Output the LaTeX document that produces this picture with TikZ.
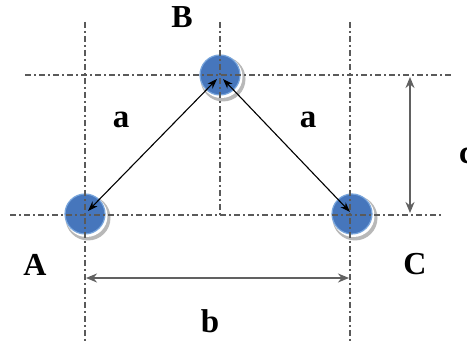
\documentclass[tikz,border=0pt]{standalone}
\usepackage{fontspec}
\setmainfont{Liberation Serif}
\usetikzlibrary{arrows.meta}
\definecolor{ballblue}{RGB}{70,118,188}
\definecolor{ballrim}{RGB}{120,165,220}
\definecolor{guide}{RGB}{90,90,90}
\tikzset{
  guideline/.style={guide, line width=1.2pt, dash pattern=on 6pt off 3pt on 2pt off 3pt},
  ball/.style={circle, minimum size=40pt, inner sep=0pt, fill=ballblue, draw=ballrim, line width=1.2pt},
  dimarrow/.style={{Stealth[length=11pt,width=9pt]}-{Stealth[length=11pt,width=9pt]}, line width=2.2pt, draw=black!62},
  linkarrow/.style={{Stealth[length=10pt,width=7pt]}-{Stealth[length=10pt,width=7pt]}, line width=1.1pt, black},
  capl/.style={font=\fontsize{32}{32}\selectfont\bfseries},
  lowl/.style={font=\fontsize{33}{33}\selectfont\bfseries},
}
\begin{document}
\begin{tikzpicture}[x=1pt,y=-1pt]
\useasboundingbox (0,0) rectangle (467,344);
\clip (0,0) rectangle (467,344);
\fill[white] (0,0) rectangle (467,344);
% halos
\foreach \x/\y in {85/214, 220/75, 352/214}{
  \fill[black!28] (\x+3,\y+4) circle (22.5pt);
  \fill[white] (\x+1.5,\y+2) circle (21pt);
}
% balls
\node[ball] (A) at (85,214) {};
\node[ball] (B) at (220,75) {};
\node[ball] (C) at (352,214) {};
% guide lines
\draw[guideline] (85,22) -- (85,344);
\draw[guideline] (220,22) -- (220,215);
\draw[guideline] (350,22) -- (350,344);
\draw[guideline] (25,75) -- (452,75);
\draw[guideline] (10,215) -- (442,215);
% link arrows
\draw[linkarrow] ([shift={(-3,4)}]B.center) -- ([shift={(3,-3)}]A.center);
\draw[linkarrow] ([shift={(3,4)}]B.center) -- ([shift={(-2,-2)}]C.center);
% dimension arrows
\coordinate (ct) at (410,77);
\coordinate (cb) at (410,213);
\draw[dimarrow] (ct) -- (cb);
\coordinate (bl) at (86,278);
\coordinate (br) at (349,278);
\draw[dimarrow] (bl) -- (br);
% labels
\node[capl] (lA) at (35,265) {A};
\node[capl] (lB) at (182,17) {B};
\node[capl] (lC) at (415,264) {C};
\node[lowl] (la1) at (121,120) {a};
\node[lowl] (la2) at (308,120) {a};
\node[lowl] (lb) at (210,321) {b};
\node[lowl, anchor=west, inner sep=0pt] (lc) at (459,156) {c};
\end{tikzpicture}
\end{document}
